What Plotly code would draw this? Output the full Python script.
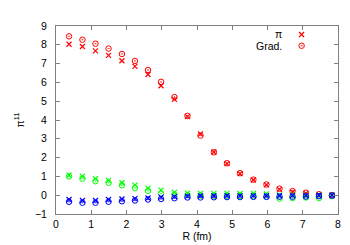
import plotly.graph_objects as go

# ── Data ─────────────────────────────────────────────────────────────────────
R = [0.37, 0.75, 1.12, 1.49, 1.87, 2.24, 2.61, 2.98, 3.36, 3.73, 4.10,
     4.48, 4.85, 5.22, 5.60, 5.97, 6.34, 6.71, 7.09, 7.46, 7.83]

red_pi = [8.03, 7.91, 7.68, 7.44, 7.15, 6.85, 6.42, 5.82, 5.10, 4.18, 3.26,
          2.30, 1.68, 1.15, 0.81, 0.55, 0.31, 0.17, 0.09, 0.03, -0.03]
red_grad = [8.45, 8.27, 8.06, 7.80, 7.51, 7.14, 6.66, 6.03, 5.22, 4.22, 3.17,
            2.28, 1.70, 1.17, 0.83, 0.57, 0.35, 0.22, 0.13, 0.05, 0.00]

green_pi = [1.07, 1.00, 0.88, 0.79, 0.66, 0.54, 0.38, 0.27, 0.15, 0.11, 0.10,
            0.10, 0.10, 0.09, 0.09, 0.07, 0.02, 0.01, 0.00, 0.00, 0.00]
green_grad = [1.00, 0.88, 0.74, 0.66, 0.53, 0.38, 0.23, 0.09, 0.03, 0.00, -0.02,
              -0.03, -0.03, -0.04, -0.05, -0.07, -0.18, -0.15, -0.12, -0.15, -0.05]

blue_pi = [-0.23, -0.28, -0.28, -0.23, -0.20, -0.18, -0.15, -0.10, -0.08, -0.05, -0.03,
           -0.03, -0.02, -0.02, -0.02, -0.03, -0.03, -0.02, -0.02, -0.01, 0.00]
blue_grad = [-0.35, -0.40, -0.40, -0.35, -0.32, -0.28, -0.23, -0.20, -0.16, -0.12, -0.12,
             -0.11, -0.10, -0.10, -0.09, -0.09, -0.08, -0.08, -0.07, -0.05, -0.02]

RED, GREEN, BLUE = "#ff0000", "#00ff00", "#0000ff"
FONT = "Liberation Sans, Arial, sans-serif"
FRAME = "#808080"


def cross(y, color, legend=None):
    return go.Scatter(
        x=R, y=y, mode="markers",
        marker=dict(symbol="x-thin", size=5, line=dict(color=color, width=1.2)),
        name=" ", showlegend=legend is not None, legend=legend or "legend",
        hoverinfo="skip",
    )


def ring(y, color, legend=None):
    return go.Scatter(
        x=R, y=y, mode="markers",
        marker=dict(symbol="circle-open-dot", size=5.5, color=color,
                    line=dict(color=color, width=1)),
        name=" ", showlegend=legend is not None, legend=legend or "legend",
        hoverinfo="skip",
    )


fig = go.Figure()
fig.add_trace(cross(red_pi, RED, "legend"))
fig.add_trace(ring(red_grad, RED, "legend2"))
fig.add_trace(cross(green_pi, GREEN))
fig.add_trace(ring(green_grad, GREEN))
fig.add_trace(cross(blue_pi, BLUE))
fig.add_trace(ring(blue_grad, BLUE))

axis_style = dict(
    showline=True, linecolor=FRAME, linewidth=1, mirror="allticks",
    ticks="inside", ticklen=4, tickcolor=FRAME, tickwidth=1,
    showgrid=False, zeroline=False,
    tickfont=dict(family=FONT, size=10.5, color="#000000"),
)

fig.update_xaxes(range=[0, 8], dtick=1, **axis_style,
                 title=dict(text="R (fm)", font=dict(family=FONT, size=10.5), standoff=4))
fig.update_yaxes(range=[-1, 9], dtick=1, **axis_style, ticklabelstandoff=6,
                 title=dict(text="π<sup>11</sup>", font=dict(family=FONT, size=10.5), standoff=8))

legend_style = dict(bgcolor="rgba(0,0,0,0)", borderwidth=0, font=dict(family=FONT, size=8),
                    xanchor="left", yanchor="middle", itemwidth=30)
fig.update_layout(
    width=350, height=245,
    margin=dict(l=46, r=20, t=14, b=36),
    paper_bgcolor="white", plot_bgcolor="white",
    font=dict(family=FONT, size=10.5, color="#000000"),
    legend=dict(x=0.80, y=0.955, **legend_style),
    legend2=dict(x=0.80, y=0.895, **legend_style),
    annotations=[
        dict(text="π", x=0.81, y=0.955, xref="paper", yref="paper",
             xanchor="right", yanchor="middle", showarrow=False, font=dict(size=10.5)),
        dict(text="Grad.", x=0.81, y=0.893, xref="paper", yref="paper",
             xanchor="right", yanchor="middle", showarrow=False, font=dict(size=10.5)),
    ],
)

fig.write_html("out.html")
